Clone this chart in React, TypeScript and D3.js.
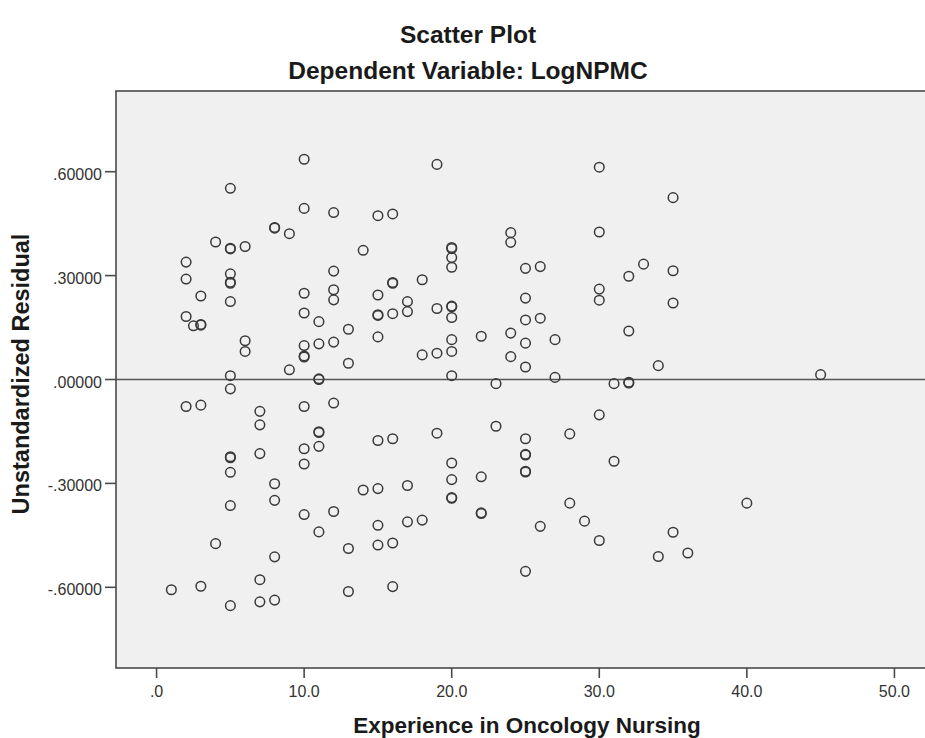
import * as d3 from 'd3';

// Experience in Oncology Nursing (years) and the matching unstandardized residual
const experience = [
  1,
  2, 2, 2, 2, 2.5,
  3, 3, 3, 3, 3,
  4, 4,
  5, 5, 5, 5, 5, 5, 5, 5, 5, 5, 5, 5, 5, 5,
  6, 6, 6,
  7, 7, 7, 7, 7,
  8, 8, 8, 8, 8, 8,
  9, 9,
  10, 10, 10, 10, 10, 10, 10, 10, 10, 10, 10,
  11, 11, 11, 11, 11, 11, 11, 11,
  12, 12, 12, 12, 12, 12, 12,
  13, 13, 13, 13,
  14, 14,
  15, 15, 15, 15, 15, 15, 15, 15, 15,
  16, 16, 16, 16, 16, 16, 16,
  17, 17, 17, 17,
  18, 18, 18,
  19, 19, 19, 19,
  20, 20, 20, 20, 20, 20, 20, 20, 20, 20, 20, 20, 20, 20,
  22, 22, 22, 22,
  23, 23,
  24, 24, 24, 24,
  25, 25, 25, 25, 25, 25, 25, 25, 25, 25, 25,
  26, 26, 26,
  27, 27,
  28, 28,
  29,
  30, 30, 30, 30, 30, 30,
  31, 31,
  32, 32, 32, 32,
  33,
  34, 34,
  35, 35, 35, 35,
  36,
  40,
  45,
];

const residual = [
  -0.607,
  0.339, 0.29, 0.182, -0.078, 0.155,
  0.241, 0.157, 0.159, -0.074, -0.597,
  0.397, -0.474,
  0.552, 0.377, 0.379, 0.305, 0.278, 0.281, 0.225, 0.011, -0.027, -0.223, -0.226, -0.268, -0.364, -0.653,
  0.384, 0.112, 0.081,
  -0.092, -0.131, -0.214, -0.578, -0.642,
  0.437, 0.439, -0.301, -0.349, -0.512, -0.637,
  0.421, 0.028,
  0.636, 0.494, 0.249, 0.192, 0.098, 0.065, 0.068, -0.078, -0.2, -0.244, -0.39,
  0.167, 0.103, 0.0, 0.002, -0.151, -0.153, -0.193, -0.44,
  0.482, 0.313, 0.259, 0.23, 0.108, -0.068, -0.381,
  0.145, 0.047, -0.488, -0.612,
  0.373, -0.319,
  0.473, 0.244, 0.185, 0.187, 0.123, -0.176, -0.315, -0.421, -0.478,
  0.478, 0.278, 0.28, 0.19, -0.171, -0.472, -0.598,
  0.225, 0.196, -0.306, -0.411,
  0.288, 0.071, -0.406,
  0.621, 0.205, 0.076, -0.155,
  0.378, 0.381, 0.352, 0.324, 0.21, 0.212, 0.179, 0.115, 0.081, 0.011, -0.241, -0.289, -0.341, -0.343,
  0.125, -0.281, -0.385, -0.387,
  -0.012, -0.135,
  0.424, 0.396, 0.134, 0.066,
  0.321, 0.235, 0.172, 0.105, 0.036, -0.171, -0.216, -0.218, -0.265, -0.267, -0.554,
  0.326, 0.177, -0.424,
  0.115, 0.006,
  -0.157, -0.357,
  -0.409,
  0.613, 0.426, 0.261, 0.229, -0.102, -0.465,
  -0.012, -0.236,
  0.298, 0.14, -0.008, -0.01,
  0.333,
  0.04, -0.511,
  0.525, 0.314, 0.221, -0.441,
  -0.501,
  -0.357,
  0.014,
];

const xTicks = [0, 10, 20, 30, 40, 50];
const yTicks = [-0.6, -0.3, 0, 0.3, 0.6];

const title = 'Scatter Plot';
const subtitle = 'Dependent Variable: LogNPMC';
const xLabel = 'Experience in Oncology Nursing';
const yLabel = 'Unstandardized Residual';

const width = 925;
const height = 738;
const plot = { left: 116, right: 935, top: 91, bottom: 668 };
const font = '"Liberation Sans", Arial, sans-serif';

// SPSS drops the leading zero (".60000", "-.30000", ".0") and uses a plain hyphen
const stripZero = (s: string) => s.replace(/\u2212/g, '-').replace(/^(-?)0\./, '$1.');
const fmtY = (v: number) => stripZero(d3.format('.5f')(v));
const fmtX = (v: number) => stripZero(d3.format('.1f')(v));

export default function App() {
  const x = d3.scaleLinear().domain([-2.75, 52.75]).range([plot.left, plot.right]);
  const y = d3.scaleLinear().domain([-0.833, 0.833]).range([plot.bottom, plot.top]);

  const points = experience.map((e, i) => ({ e, r: residual[i] }));

  return (
    <svg
      width={width}
      height={height}
      style={{ position: 'absolute', left: 0, top: 0, background: '#fff' }}
      fontFamily={font}
    >
      <defs>
        <clipPath id="plot-clip">
          <rect x={plot.left} y={plot.top} width={plot.right - plot.left} height={plot.bottom - plot.top} />
        </clipPath>
      </defs>

      {/* titles */}
      <text x={468} y={43} textAnchor="middle" fontSize={24.5} fontWeight="bold" fill="#1a1a1a">
        {title}
      </text>
      <text x={468} y={79} textAnchor="middle" fontSize={24.5} fontWeight="bold" fill="#1a1a1a">
        {subtitle}
      </text>

      {/* plot background + frame */}
      <rect
        x={plot.left}
        y={plot.top}
        width={plot.right - plot.left}
        height={plot.bottom - plot.top}
        fill="#f0f0f0"
        stroke="#4a4a4a"
        strokeWidth={1.6}
      />

      {/* reference line at zero */}
      <line x1={plot.left} x2={plot.right} y1={y(0)} y2={y(0)} stroke="#555" strokeWidth={1.6} />

      {/* y axis */}
      {yTicks.map(t => (
        <g key={t}>
          <line x1={plot.left - 11} x2={plot.left} y1={y(t)} y2={y(t)} stroke="#4a4a4a" strokeWidth={1.6} />
          <text x={plot.left - 14} y={y(t)} dy={8} textAnchor="end" fontSize={16} fill="#333">
            {fmtY(t)}
          </text>
        </g>
      ))}

      {/* x axis */}
      {xTicks.map(t => (
        <g key={t}>
          <line x1={x(t)} x2={x(t)} y1={plot.bottom} y2={plot.bottom + 10} stroke="#4a4a4a" strokeWidth={1.6} />
          <text x={x(t)} y={697} textAnchor="middle" fontSize={16} fill="#333">
            {fmtX(t)}
          </text>
        </g>
      ))}

      {/* points */}
      <g clipPath="url(#plot-clip)">
        {points.map((p, i) => (
          <circle
            key={i}
            cx={x(p.e)}
            cy={y(p.r)}
            r={4.8}
            fill="none"
            stroke="#3a3a3a"
            strokeWidth={1.5}
          />
        ))}
      </g>

      {/* axis titles */}
      <text x={527} y={733} textAnchor="middle" fontSize={22.5} fontWeight="bold" fill="#1a1a1a">
        {xLabel}
      </text>
      <text
        transform={`translate(29,${374}) rotate(-90)`}
        textAnchor="middle"
        fontSize={23.5}
        fontWeight="bold"
        fill="#1a1a1a"
      >
        {yLabel}
      </text>
    </svg>
  );
}
